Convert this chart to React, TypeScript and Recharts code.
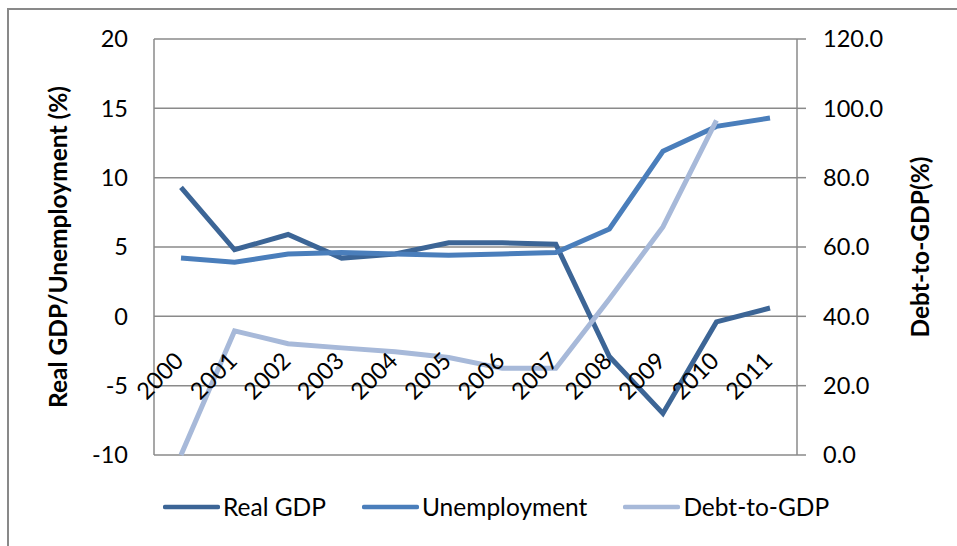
import { LineChart, Line, XAxis, YAxis, CartesianGrid, Legend, Label } from "recharts";

const years = ["2000", "2001", "2002", "2003", "2004", "2005", "2006", "2007", "2008", "2009", "2010", "2011"];
const realGdp = [9.3, 4.8, 5.9, 4.2, 4.5, 5.3, 5.3, 5.2, -2.9, -7.0, -0.4, 0.6];
const unemployment = [4.2, 3.9, 4.5, 4.6, 4.5, 4.4, 4.5, 4.6, 6.3, 11.9, 13.7, 14.3];
const debtToGdp = [0, 35.8, 32.1, 30.9, 29.8, 28.1, 25.0, 25.0, 45.0, 65.8, 96.5, null];
const leftTicks = [-10, -5, 0, 5, 10, 15, 20];
const rightTicks = [0, 20, 40, 60, 80, 100, 120];

const data = years.map((year, i) => ({
  year,
  realGdp: realGdp[i],
  unemployment: unemployment[i],
  debt: debtToGdp[i],
}));

const FONT = "Lato, 'Open Sans', sans-serif";
const GRID = "#8a8a8a";
const W = 957;
const H = 546;
const PLOT_TOP = 39;
const PLOT_BOTTOM = 455;
const LEFT_W = 154;
const RIGHT_W = 160;
// the category labels sit just under the zero line, not at the bottom
const ZERO_Y = PLOT_TOP + ((PLOT_BOTTOM - PLOT_TOP) * 20) / 30;
const LABEL_Y = ZERO_Y + 46;

const series = [
  { key: "realGdp", name: "Real GDP", color: "#3c6596", axis: "left" },
  { key: "unemployment", name: "Unemployment", color: "#4a7ebb", axis: "left" },
  { key: "debt", name: "Debt-to-GDP", color: "#a7b9d9", axis: "right" },
];

function YearTick(props: any) {
  const { x, payload } = props;
  const ax = x + 4;
  return (
    <text
      x={ax}
      y={LABEL_Y}
      textAnchor="end"
      fontSize={23.5}
      fontFamily={FONT}
      fill="#000"
      transform={`rotate(-45, ${ax}, ${LABEL_Y})`}
    >
      {payload.value}
    </text>
  );
}

function LeftTitle(props: any) {
  const vb = props.viewBox;
  const cy = vb.y + vb.height / 2;
  return (
    <text
      x={67}
      y={cy}
      textAnchor="middle"
      fontSize={24.5}
      fontWeight="bold"
      fontFamily={FONT}
      fill="#000"
      transform={`rotate(-90, 67, ${cy})`}
    >
      Real GDP/Unemployment (%)
    </text>
  );
}

function RightTitle(props: any) {
  const vb = props.viewBox;
  const cy = vb.y + vb.height / 2;
  return (
    <text
      x={929}
      y={cy}
      textAnchor="middle"
      fontSize={24.5}
      fontWeight="bold"
      fontFamily={FONT}
      fill="#000"
      transform={`rotate(-90, 929, ${cy})`}
    >
      Debt-to-GDP(%)
    </text>
  );
}

function LegendContent() {
  return (
    <div style={{ display: "flex", alignItems: "center", paddingLeft: 163, fontFamily: FONT, fontSize: 24.5 }}>
      {series.map((s) => (
        <div key={s.key} style={{ display: "flex", alignItems: "center", marginRight: 36 }}>
          <svg width={57} height={8}>
            <line x1={2} y1={4} x2={55} y2={4} stroke={s.color} strokeWidth={4.5} strokeLinecap="round" />
          </svg>
          <span style={{ marginLeft: 3, color: "#000", lineHeight: "30px" }}>{s.name}</span>
        </div>
      ))}
    </div>
  );
}

export default function App() {
  return (
    <div style={{ position: "fixed", left: 0, top: 0, width: W, height: H, overflow: "hidden", background: "#fff" }}>
      <div
        style={{
          position: "absolute",
          left: 7,
          top: 8,
          width: 2000,
          height: 2000,
          borderLeft: "2px solid #898989",
          borderTop: "2px solid #898989",
        }}
      />
      <div style={{ position: "absolute", left: 0, top: 0 }}>
        <LineChart width={W} height={H} data={data} margin={{ top: PLOT_TOP, right: 0, bottom: 0, left: 0 }}>
          <CartesianGrid yAxisId="left" vertical={false} stroke={GRID} strokeWidth={1.5} />
          <XAxis
            dataKey="year"
            height={H - PLOT_BOTTOM}
            padding={{ left: 27, right: 27 }}
            axisLine={false}
            tickLine={false}
            interval={0}
            tick={<YearTick />}
          />
          <YAxis
            yAxisId="left"
            width={LEFT_W}
            domain={[-10, 20]}
            ticks={leftTicks}
            interval={0}
            stroke={GRID}
            strokeWidth={1.5}
            tickLine={false}
            tickSize={0}
            tickMargin={26}
            tick={{ fill: "#000", fontSize: 23.5, fontFamily: FONT }}
            label={<Label content={<LeftTitle />} />}
          />
          <YAxis
            yAxisId="right"
            orientation="right"
            width={RIGHT_W}
            domain={[0, 120]}
            ticks={rightTicks}
            interval={0}
            stroke={GRID}
            strokeWidth={1.5}
            tickSize={9}
            tickMargin={17}
            tickFormatter={(v: number) => v.toFixed(1)}
            tick={{ fill: "#000", fontSize: 23.5, fontFamily: FONT, textAnchor: "start" }}
            label={<Label content={<RightTitle />} />}
          />
          {series.map((s) => (
            <Line
              key={s.key}
              yAxisId={s.axis}
              type="linear"
              dataKey={s.key}
              name={s.name}
              stroke={s.color}
              strokeWidth={5}
              dot={false}
              isAnimationActive={false}
            />
          ))}
          <Legend
            layout="horizontal"
            verticalAlign="middle"
            align="center"
            content={<LegendContent />}
            wrapperStyle={{ left: 0, top: 492, width: W }}
          />
        </LineChart>
      </div>
    </div>
  );
}
